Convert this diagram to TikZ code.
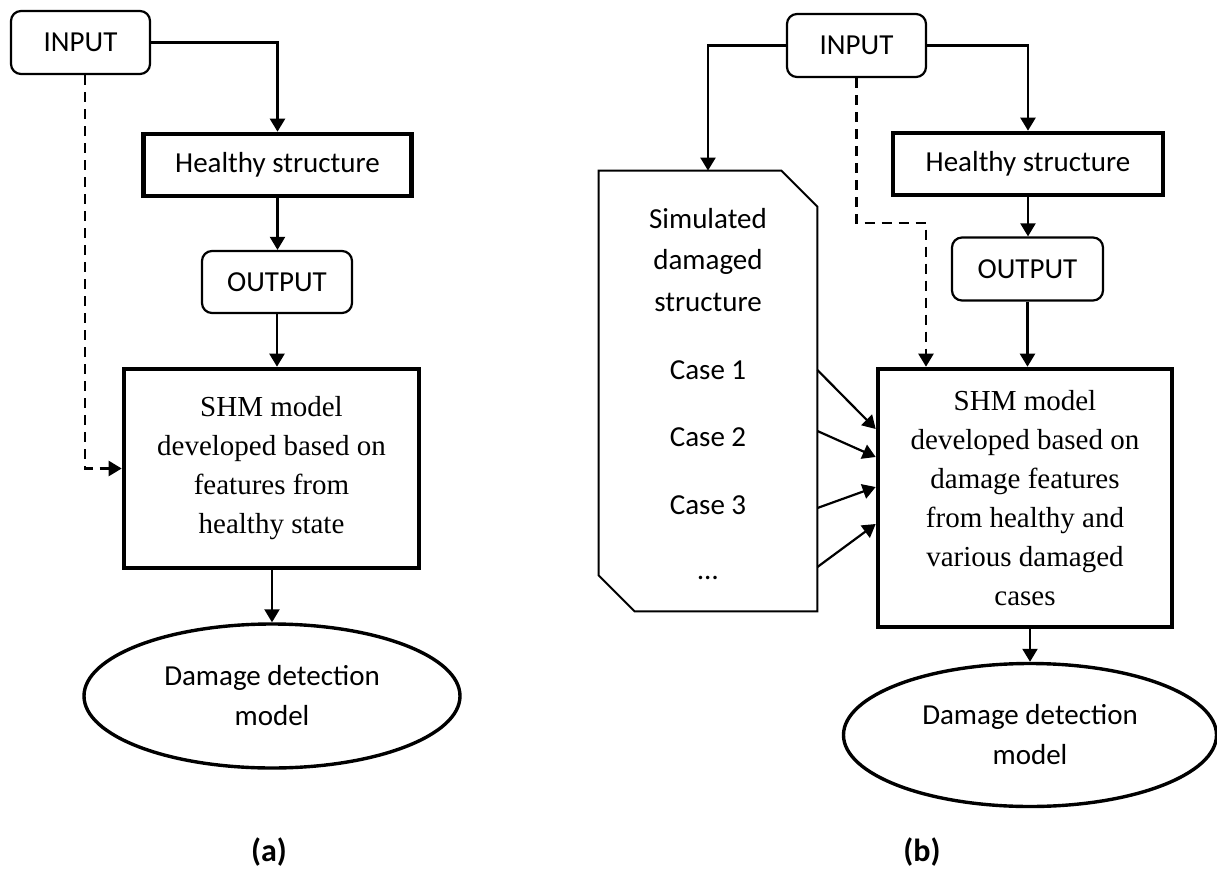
\documentclass[tikz,border=0pt]{standalone}
\usepackage{amsmath}
\usepackage{fontspec}
\setmainfont{Liberation Serif}
\setsansfont{Carlito}
\usetikzlibrary{arrows.meta,shapes.geometric}

\begin{document}
\begin{tikzpicture}[x=0.5pt,y=-0.5pt,
  >={Triangle[length=6.5pt,width=7.5pt]},
  line/.style={black,line width=1.1pt},
  dline/.style={black,line width=1.1pt,dash pattern=on 5pt off 3.5pt},
  io/.style={draw,black,line width=1.1pt,rounded corners=5pt,minimum width=69.5pt,
    minimum height=31.5pt,inner sep=0pt,font=\sffamily\fontsize{14.5}{19.5}\selectfont},
  heavybox/.style={draw,black,line width=2.3pt,inner sep=0pt,align=center,
    font=\sffamily\fontsize{14.5}{19.5}\selectfont},
  shmbox/.style={draw,black,line width=2.3pt,inner sep=0pt,align=center,
    font=\rmfamily\fontsize{14.5}{19.5}\selectfont},
  result/.style={draw,black,ellipse,line width=1.7pt,inner sep=0pt,align=center,
    font=\sffamily\fontsize{14.5}{20}\selectfont},
  simtext/.style={align=center,inner sep=0pt,font=\sffamily\fontsize{14.5}{20.75}\selectfont},
  sublabel/.style={font=\sffamily\bfseries\fontsize{16}{19}\selectfont}]
\useasboundingbox (0,0) rectangle (1217,873);

% (a)
\node [io] (inA) at (80.5,42.5) {INPUT};
\node [heavybox,minimum width=134pt,minimum height=31pt] (healthyA) at (277.5,165) {Healthy structure};
\node [io,minimum width=75pt,minimum height=31pt] (outA) at (277,282) {OUTPUT};
\node [shmbox,minimum width=147.5pt,minimum height=99.5pt] (shmA) at (271.5,468.5)
  {SHM model\\developed based on\\features from\\healthy state};
\node [result,minimum width=188pt,minimum height=72pt] (ellA) at (272,696) {Damage detection\\model};
\node [sublabel] (labA) at (269,852) {(a)};

\draw [line,->] (inA.east) -| (healthyA.north);
\draw [line,->] (healthyA.south) -- (healthyA.south |- outA.north);
\draw [line,->] (outA.south) -- (outA.south |- shmA.north);
\draw [dline,->] ([xshift=2.25pt]inA.south) |- (shmA.west);
\draw [line,->] (ellA.north |- shmA.south) -- (ellA.north);

% (b)
\node [io] (inB) at (856.5,45.5) {INPUT};
\node [heavybox,minimum width=135pt,minimum height=31pt] (healthyB) at (1028,164) {Healthy structure};
\node [io,minimum width=75.5pt,minimum height=31.5pt] (outB) at (1027.5,269) {OUTPUT};
\node [shmbox,minimum width=147pt,minimum height=129pt] (shmB) at (1025,498)
  {SHM model\\developed based on\\damage features\\from healthy and\\various damaged\\cases};
\node [result,minimum width=186.5pt,minimum height=71.5pt] (ellB) at (1030,735) {Damage detection\\model};
\node [sublabel] (labB) at (922,852) {(b)};

% simulated cases, corners cut at top right and bottom left
\node [inner sep=0pt,minimum width=109pt,minimum height=220pt] (sim) at (708,391) {};
\draw [black,line width=1pt] (sim.north west) -- ([xshift=-18pt]sim.north east)
  -- ([yshift=-18pt]sim.north east) -- (sim.south east) -- ([xshift=18pt]sim.south west)
  -- ([yshift=18pt]sim.south west) -- cycle;
\node [simtext] (simname) at (708,260) {Simulated\\damaged\\structure};
\node [simtext] (case1) at (708,370) {Case 1};
\node [simtext] (case2) at (708,437) {Case 2};
\node [simtext] (case3) at (708,505) {Case 3};
\node [simtext] (caseN) at (708,578) {…};

\coordinate (bendB) at (926,223);
\draw [line,->] (inB.west) -| (sim.north);
\draw [line,->] (inB.east) -| (healthyB.north);
\draw [line,->] (healthyB.south) -- (healthyB.south |- outB.north);
\draw [line,->] (outB.south) -- (outB.south |- shmB.north);
\draw [dline,->] (inB.south) |- (bendB) -- (bendB |- shmB.north);
\draw [line,->] ([yshift=10.5pt]sim.east) -- ([yshift=34.5pt]shmB.west);
\draw [line,->] ([yshift=-20pt]sim.east) -- ([yshift=20.5pt]shmB.west);
\draw [line,->] ([yshift=-58.5pt]sim.east) -- ([yshift=5.5pt]shmB.west);
\draw [line,->] ([yshift=-88pt]sim.east) -- ([yshift=-13pt]shmB.west);
\draw [line,->] (ellB.north |- shmB.south) -- (ellB.north);
\end{tikzpicture}
\end{document}
